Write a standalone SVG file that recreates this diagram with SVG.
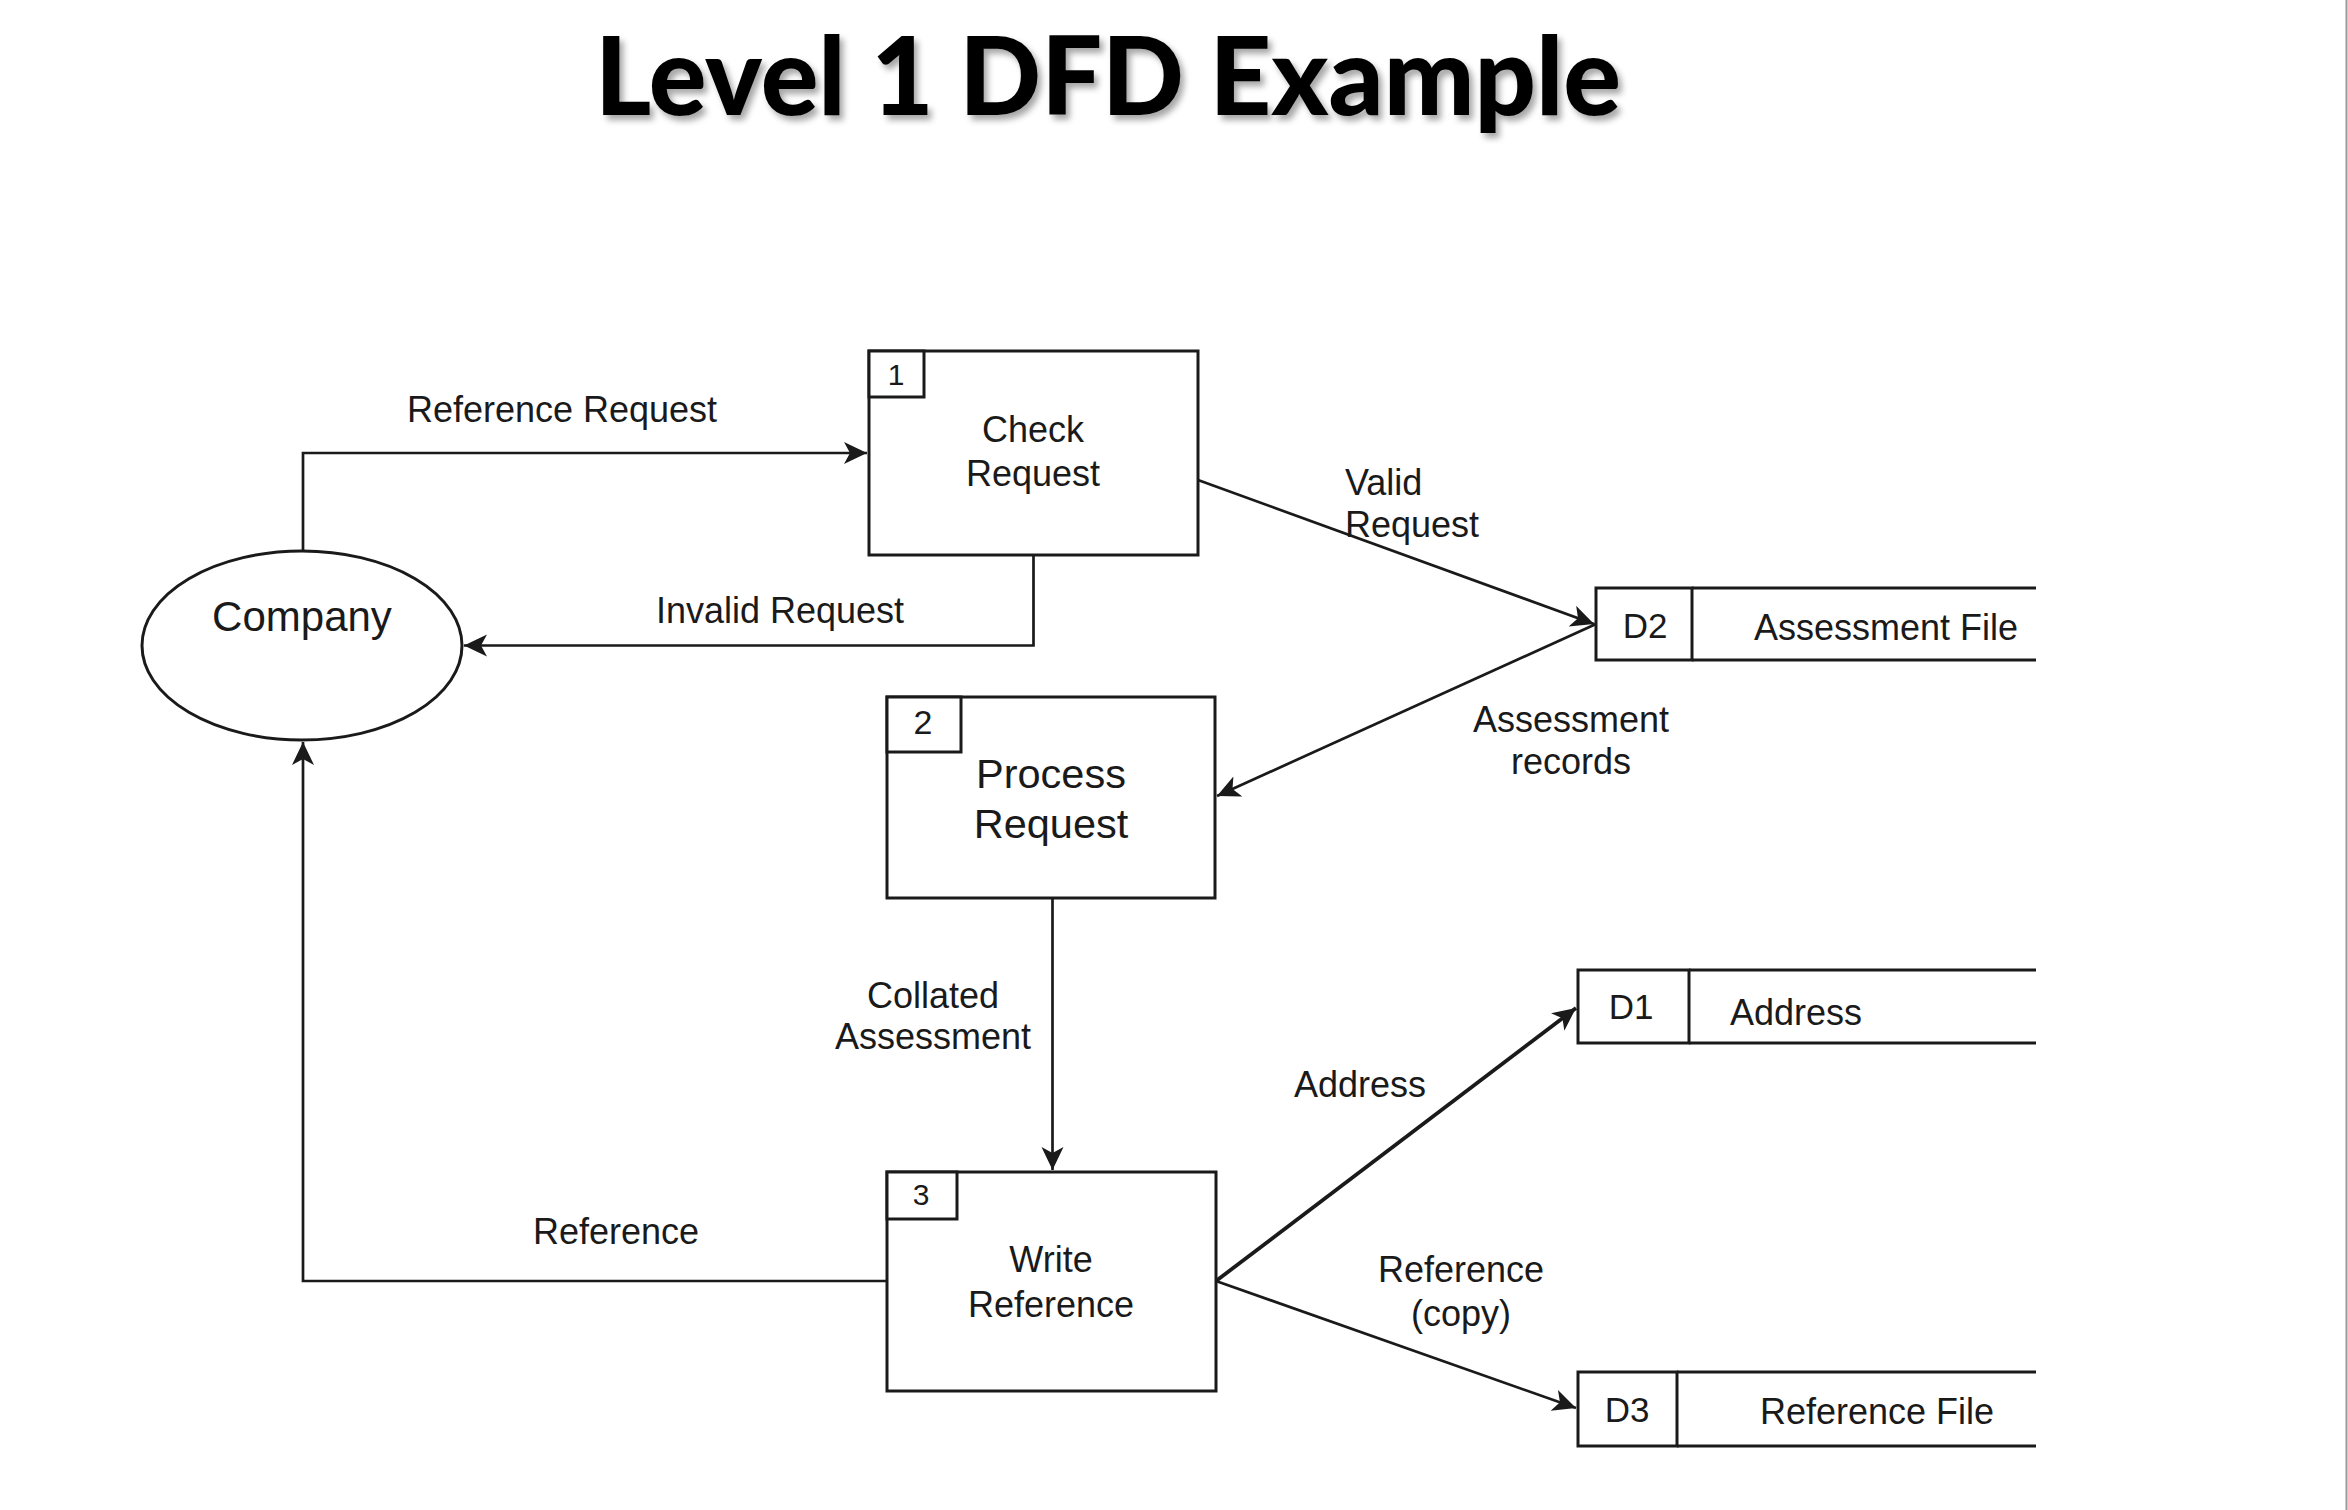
<svg xmlns="http://www.w3.org/2000/svg" width="2348" height="1510" viewBox="0 0 2348 1510">
<defs>
<style>
.box{fill:#fff;stroke:#1a1a1a;stroke-width:3}
.store{fill:none;stroke:#1a1a1a;stroke-width:3}
.conn{fill:none;stroke:#1a1a1a;stroke-width:2.7}
.t{font-family:"Liberation Sans",Arial,sans-serif;fill:#1a1a1a;text-anchor:middle}
.lbl{font-family:"Liberation Sans",Arial,sans-serif;fill:#1a1a1a;font-size:36px;text-anchor:middle}
.st{text-anchor:start}
</style>
<marker id="arr" markerUnits="userSpaceOnUse" markerWidth="26" markerHeight="24" refX="23" refY="11" orient="auto">
<path d="M0,0 L23,11 L0,22 L6,11 Z" fill="#1a1a1a"/>
</marker>
<filter id="sh" x="-5%" y="-20%" width="110%" height="150%">
<feDropShadow dx="4" dy="5" stdDeviation="3" flood-color="#000" flood-opacity="0.35"/>
</filter>
</defs>
<rect x="0" y="0" width="2348" height="1510" fill="#fff"/>
<line x1="2346.5" y1="0" x2="2346.5" y2="1510" stroke="#999" stroke-width="2"/>

<g id="title">
<text x="1108" y="115" font-family="Lato,'Open Sans',sans-serif" font-weight="900" font-size="108" fill="#000" text-anchor="middle" textLength="1026" lengthAdjust="spacingAndGlyphs" filter="url(#sh)">Level 1 DFD Example</text>
</g>

<g id="connectors">
<path class="conn" d="M303,551 L303,453 L867,453" marker-end="url(#arr)"/>
<path class="conn" d="M1033.5,555 L1033.5,645.5 L464,645.5" marker-end="url(#arr)"/>
<path class="conn" d="M1198,480 L1594,624" marker-end="url(#arr)"/>
<path class="conn" d="M1596,624 L1217,796" marker-end="url(#arr)"/>
<path class="conn" d="M1052.5,898 L1052.5,1170" marker-end="url(#arr)"/>
<path class="conn" d="M887,1281 L303,1281 L303,742" marker-end="url(#arr)"/>
<path class="conn" d="M1216,1281 L1576,1008" style="stroke-width:3.8" marker-end="url(#arr)"/>
<path class="conn" d="M1216,1281 L1576,1408" marker-end="url(#arr)"/>
<text class="lbl" x="562" y="422">Reference Request</text>
<text class="lbl" x="780" y="623">Invalid Request</text>
<text class="lbl st" x="1345" y="495">Valid</text>
<text class="lbl st" x="1345" y="537">Request</text>
<text class="lbl" x="1571" y="732">Assessment</text>
<text class="lbl" x="1571" y="774">records</text>
<text class="lbl" x="933" y="1008">Collated</text>
<text class="lbl" x="933" y="1049">Assessment</text>
<text class="lbl" x="616" y="1244">Reference</text>
<text class="lbl" x="1360" y="1097">Address</text>
<text class="lbl" x="1461" y="1282">Reference</text>
<text class="lbl" x="1461" y="1326">(copy)</text>
</g>

<g id="company">
<ellipse class="box" cx="302" cy="645.5" rx="160" ry="94.5"/>
<text class="t" x="302" y="631" font-size="42">Company</text>
</g>

<g id="p1">
<rect class="box" x="869" y="351" width="329" height="204"/>
<rect class="box" x="869" y="351" width="55" height="46"/>
<text class="t" x="896" y="385" font-size="30">1</text>
<text class="t" x="1033" y="442" font-size="36">Check</text>
<text class="t" x="1033" y="486" font-size="36">Request</text>
</g>

<g id="p2">
<rect class="box" x="887" y="697" width="328" height="201"/>
<rect class="box" x="887" y="697" width="74" height="55"/>
<text class="t" x="923" y="734" font-size="34">2</text>
<text class="t" x="1051" y="788" font-size="41.5">Process</text>
<text class="t" x="1051" y="838" font-size="41.5">Request</text>
</g>

<g id="p3">
<rect class="box" x="887" y="1172" width="329" height="219"/>
<rect class="box" x="887" y="1172" width="70" height="47"/>
<text class="t" x="921" y="1205" font-size="30">3</text>
<text class="t" x="1051" y="1272" font-size="36">Write</text>
<text class="t" x="1051" y="1317" font-size="36">Reference</text>
</g>

<g id="d2">
<rect class="box" x="1596" y="588" width="96" height="72"/>
<path class="store" d="M1692,588 L2036,588 M1692,660 L2036,660"/>
<text class="t" x="1645" y="638" font-size="35">D2</text>
<text class="t" x="1886" y="640" font-size="36">Assessment File</text>
</g>

<g id="d1">
<rect class="box" x="1578" y="970" width="111" height="73"/>
<path class="store" d="M1689,970 L2036,970 M1689,1043 L2036,1043"/>
<text class="t" x="1631" y="1019" font-size="35">D1</text>
<text class="t st" x="1730" y="1025" font-size="36">Address</text>
</g>

<g id="d3">
<rect class="box" x="1578" y="1372" width="99" height="74"/>
<path class="store" d="M1677,1372 L2036,1372 M1677,1446 L2036,1446"/>
<text class="t" x="1627" y="1422" font-size="35">D3</text>
<text class="t" x="1877" y="1424" font-size="36">Reference File</text>
</g>
</svg>
